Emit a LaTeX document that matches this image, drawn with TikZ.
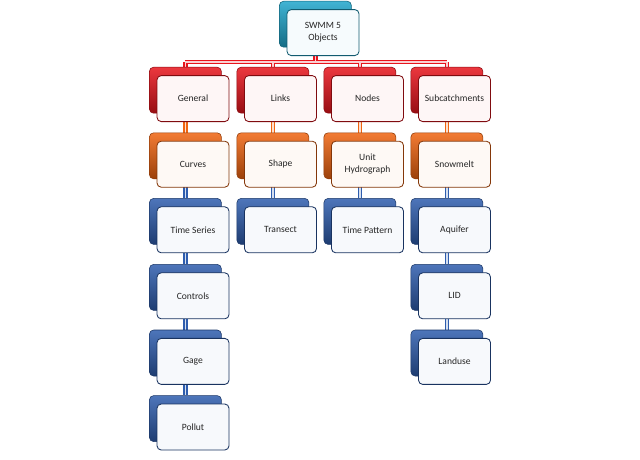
\documentclass[tikz,border=0pt]{standalone}
\usepackage{fontspec}
\setmainfont{Carlito}
\usetikzlibrary{positioning,backgrounds,calc}
\definecolor{objcyan}{HTML}{1FA6CC}
\definecolor{objred}{HTML}{E8141C}
\definecolor{objorange}{HTML}{F06410}
\definecolor{objblue}{HTML}{2E5DAE}
\tikzset{
  objfront/.style={draw=#1!55!black, fill=#1!4!white, rounded corners=3pt, line width=0.6pt,
    minimum width=18mm, minimum height=11.5mm, align=center, inner sep=1pt,
    font=\fontsize{6.8}{8.5}\selectfont, text=black!85},
  objback/.style={draw=#1!60!black, top color=#1!85!white, bottom color=#1!65!black,
    rounded corners=3pt, line width=0.4pt, minimum width=18mm, minimum height=11.5mm},
  objlink/.style={draw=#1, line width=0.9pt, double=#1!20!white, double distance=1.2pt},
}
% back box first, front box on top of it
\newcommand{\objnode}[4]{%
  \node[objback=#2] (#1b) at ($(#3)+(-0.19,0.21)$) {};
  \node[objfront=#2] (#1) at (#3) {#4};
}

\begin{document}
\begin{tikzpicture}
  \useasboundingbox (0,0) rectangle (16,11.475);
  \objnode{top}{objcyan}{8.075,10.66}{SWMM 5\\Objects}
  % first row
  \objnode{gen}{objred}{4.825,9.01}{General}
  \objnode{lnk}{objred}{7.0125,9.01}{Links}
  \objnode{nod}{objred}{9.1875,9.01}{Nodes}
  \objnode{sub}{objred}{11.3625,9.01}{Subcatchments}
  % second row
  \objnode{cur}{objorange}{4.825,7.37}{Curves}
  \objnode{shp}{objorange}{7.0125,7.37}{Shape}
  \objnode{uhy}{objorange}{9.1875,7.37}{Unit\\Hydrograph}
  \objnode{snw}{objorange}{11.3625,7.37}{Snowmelt}
  % the rest
  \objnode{tser}{objblue}{4.825,5.73}{Time Series}
  \objnode{tra}{objblue}{7.0125,5.73}{Transect}
  \objnode{tpat}{objblue}{9.1875,5.73}{Time Pattern}
  \objnode{aqu}{objblue}{11.3625,5.73}{Aquifer}
  \objnode{ctl}{objblue}{4.825,4.08}{Controls}
  \objnode{lid}{objblue}{11.3625,4.08}{LID}
  \objnode{gag}{objblue}{4.825,2.44}{Gage}
  \objnode{lnd}{objblue}{11.3625,2.44}{Landuse}
  \objnode{pol}{objblue}{4.825,0.80}{Pollut}
  \coordinate (bus) at (0,9.925);
  \begin{scope}[on background layer]
    \draw[objlink=objred] (topb.south) -- (topb.south |- bus)
      (genb |- bus) -- (subb |- bus)
      (genb |- bus) -- (genb.north) (lnkb |- bus) -- (lnkb.north)
      (nodb |- bus) -- (nodb.north) (subb |- bus) -- (subb.north);
    \foreach \a/\b in {gen/cur, lnk/shp, nod/uhy, sub/snw}
      \draw[objlink=objorange] (\a b) -- (\b b);
    \foreach \a/\b in {cur/tser, tser/ctl, ctl/gag, gag/pol, shp/tra, uhy/tpat, snw/aqu, aqu/lid, lid/lnd}
      \draw[objlink=objblue] (\a b) -- (\b b);
  \end{scope}
\end{tikzpicture}
\end{document}
